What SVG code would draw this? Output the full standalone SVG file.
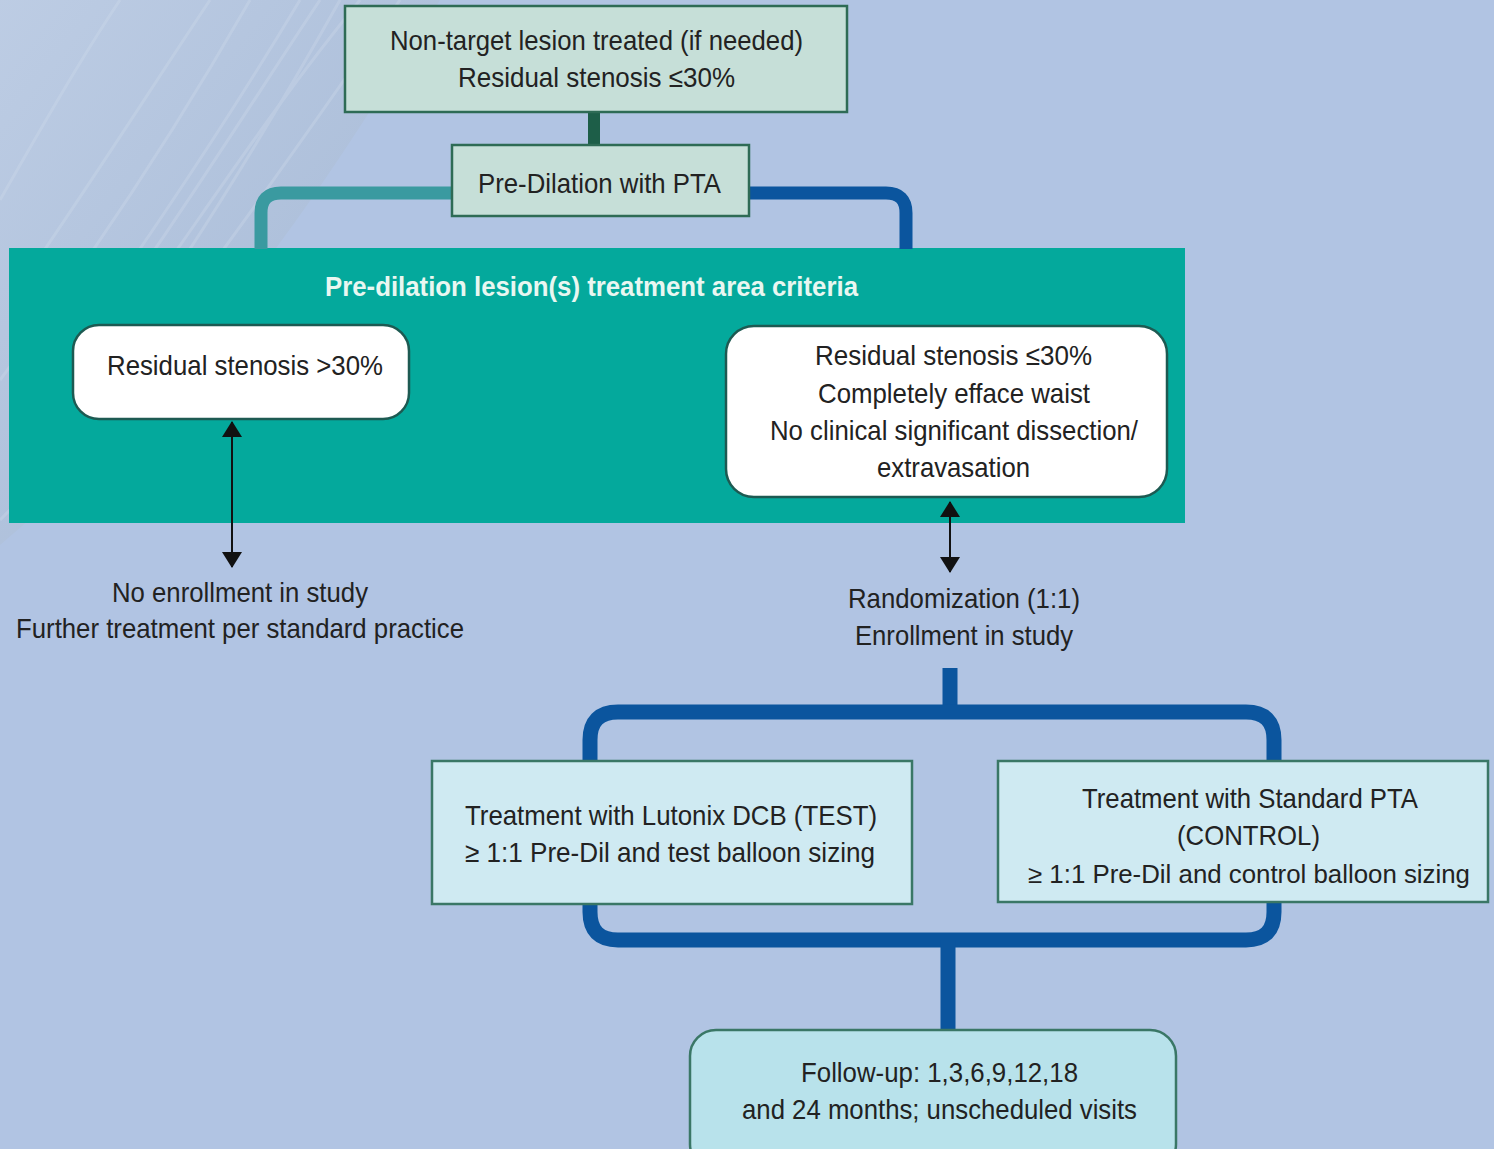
<svg xmlns="http://www.w3.org/2000/svg" width="1494" height="1149" viewBox="0 0 1494 1149">
<defs>
<linearGradient id="bgTex" x1="0" y1="0" x2="1" y2="1">
<stop offset="0" stop-color="#bfcee4"/>
<stop offset="0.6" stop-color="#adbfd9"/>
<stop offset="1" stop-color="#b1c4e3"/>
</linearGradient>
<marker id="ah" viewBox="0 0 16 20" refX="15" refY="10" markerWidth="16" markerHeight="20" markerUnits="userSpaceOnUse" orient="auto-start-reverse">
<path d="M0,0 L16,10 L0,20 Z" fill="#111"/>
</marker>
<style>
text{font-family:"Liberation Sans","Arial",sans-serif;font-size:28px;fill:#222;text-anchor:middle}
.title{font-weight:bold;fill:#e9f7f1;font-size:28px}
.small{font-size:25px}
.green{fill:#c6dfd8;stroke:#2e6b55;stroke-width:2.5}
.white{fill:#ffffff;stroke:#1d5a52;stroke-width:2.5}
.treat{fill:#cfeaf2;stroke:#3a7766;stroke-width:2.5}
.follow{fill:#b8e2eb;stroke:#3a7766;stroke-width:2.5}
.pipe{fill:none;stroke-linejoin:round}
.blue{stroke:#0b559e;stroke-width:15}
.arrow{stroke:#111;stroke-width:2;marker-start:url(#ah);marker-end:url(#ah)}
</style>
</defs>
<rect x="0" y="0" width="1494" height="1149" fill="#b1c4e3"/>
<g id="texture">
<path d="M0,0 H440 C340,160 220,360 0,545 Z" fill="url(#bgTex)" opacity="0.85"/>
<g stroke="#d3deed" stroke-width="3" opacity="0.3" fill="none">
<path d="M10,300 C80,200 150,90 210,0"/>
<path d="M0,380 C90,260 170,140 250,0"/>
<path d="M20,420 C120,280 210,150 300,0"/>
<path d="M40,460 C150,320 250,160 340,0"/>
<path d="M0,200 C40,130 80,60 120,0"/>
<path d="M60,380 C160,250 240,120 320,0"/>
<path d="M120,330 C200,220 270,110 360,0"/>
<path d="M0,520 C120,400 240,230 400,0"/>
</g>
</g>

<g id="band">
<rect x="9" y="248" width="1176" height="275" fill="#04a99c"/>
<text class="title" x="591.5" y="296" textLength="533" lengthAdjust="spacingAndGlyphs">Pre-dilation lesion(s) treatment area criteria</text>
</g>

<g id="connectors">
<rect x="588" y="112" width="12" height="34" fill="#1d5e48"/>
<path class="pipe" d="M453,193 H281 Q261,193 261,213 V249" stroke="#3a9aa0" stroke-width="13"/>
<path class="pipe" d="M748,193 H886 Q906,193 906,213 V249" stroke="#0b559e" stroke-width="13"/>
<line class="arrow" x1="232" y1="422" x2="232" y2="567"/>
<line class="arrow" x1="950" y1="502" x2="950" y2="572"/>
<path class="pipe blue" d="M950,668 V712"/>
<path class="pipe blue" d="M590,762 V740 Q590,712 618,712 H1246 Q1274,712 1274,740 V762"/>
<path class="pipe blue" d="M590,903 V912 Q590,940 618,940 H1246 Q1274,940 1274,912 V902"/>
<path class="pipe blue" d="M948,940 V1031"/>
</g>

<g id="node-nontarget">
<rect class="green" x="345" y="6" width="502" height="106"/>
<text x="596.5" y="50" textLength="413" lengthAdjust="spacingAndGlyphs">Non-target lesion treated (if needed)</text>
<text x="596.5" y="87" textLength="277" lengthAdjust="spacingAndGlyphs">Residual stenosis ≤30%</text>
</g>

<g id="node-predilation">
<rect class="green" x="452" y="145" width="297" height="71"/>
<text x="599.5" y="193" textLength="243" lengthAdjust="spacingAndGlyphs">Pre-Dilation with PTA</text>
</g>

<g id="node-residual-high">
<rect class="white" x="73" y="325" width="336" height="94" rx="26"/>
<text x="245" y="375" textLength="276" lengthAdjust="spacingAndGlyphs">Residual stenosis &gt;30%</text>
</g>

<g id="node-residual-low">
<rect class="white" x="726" y="326" width="441" height="171" rx="28"/>
<text x="953.5" y="365" textLength="277" lengthAdjust="spacingAndGlyphs">Residual stenosis ≤30%</text>
<text x="954" y="403" textLength="272" lengthAdjust="spacingAndGlyphs">Completely efface waist</text>
<text x="954" y="440" textLength="368" lengthAdjust="spacingAndGlyphs">No clinical significant dissection/</text>
<text x="953.5" y="477" textLength="153" lengthAdjust="spacingAndGlyphs">extravasation</text>
</g>

<g id="node-no-enrollment">
<text x="240" y="602" textLength="256" lengthAdjust="spacingAndGlyphs">No enrollment in study</text>
<text x="240" y="638" textLength="448" lengthAdjust="spacingAndGlyphs">Further treatment per standard practice</text>
</g>

<g id="node-randomization">
<text x="964" y="608" textLength="232" lengthAdjust="spacingAndGlyphs">Randomization (1:1)</text>
<text x="964" y="645" textLength="218" lengthAdjust="spacingAndGlyphs">Enrollment in study</text>
</g>

<g id="node-test">
<rect class="treat" x="432" y="761" width="480" height="143"/>
<text x="671" y="825" textLength="412" lengthAdjust="spacingAndGlyphs">Treatment with Lutonix DCB (TEST)</text>
<text x="670" y="862" textLength="410" lengthAdjust="spacingAndGlyphs">≥ 1:1 Pre-Dil and test balloon sizing</text>
</g>

<g id="node-control">
<rect class="treat" x="998" y="761" width="490" height="141"/>
<text x="1250" y="808" textLength="336" lengthAdjust="spacingAndGlyphs">Treatment with Standard PTA</text>
<text x="1248.5" y="845" textLength="143" lengthAdjust="spacingAndGlyphs">(CONTROL)</text>
<text class="small" x="1249" y="883" textLength="442" lengthAdjust="spacingAndGlyphs">≥ 1:1 Pre-Dil and control balloon sizing</text>
</g>

<g id="node-followup">
<rect class="follow" x="690" y="1030" width="486" height="140" rx="26"/>
<text x="939.5" y="1082" textLength="277" lengthAdjust="spacingAndGlyphs">Follow-up: 1,3,6,9,12,18</text>
<text x="939.5" y="1119" textLength="395" lengthAdjust="spacingAndGlyphs">and 24 months; unscheduled visits</text>
</g>
</svg>
